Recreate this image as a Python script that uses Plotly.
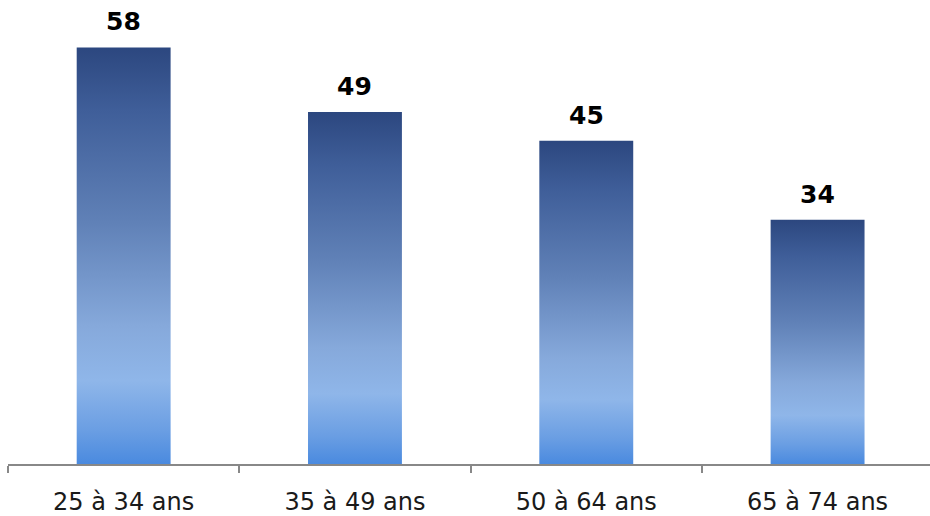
import plotly.graph_objects as go

categories = ["25 à 34 ans", "35 à 49 ans", "50 à 64 ans", "65 à 74 ans"]
values = [58, 49, 45, 34]

BAR_W = 0.406
gradient = [
    [0.0, "#4A8ADF"],
    [0.08, "#6A9EE3"],
    [0.20, "#8FB6E9"],
    [0.33, "#86A9DB"],
    [0.58, "#6081B7"],
    [0.85, "#3F5E99"],
    [1.0, "#2C477F"],
]

fig = go.Figure()
for i, (c, v) in enumerate(zip(categories, values)):
    x0, x1 = i - BAR_W / 2, i + BAR_W / 2
    fig.add_trace(go.Scatter(
        x=[x0, x1, x1, x0, x0],
        y=[0, 0, v, v, 0],
        mode="lines",
        fill="toself",
        line=dict(width=0),
        fillgradient=dict(type="vertical", colorscale=gradient),
        hoverinfo="skip",
        showlegend=False,
    ))
    fig.add_annotation(
        x=i, y=v, text=f"<b>{v}</b>", showarrow=False,
        yanchor="bottom", yshift=9,
        font=dict(family="DejaVu Sans", size=25, color="#000000"),
    )

fig.update_layout(
    width=930, height=516,
    margin=dict(l=8, r=0, t=0, b=48),
    paper_bgcolor="white", plot_bgcolor="white",
    showlegend=False,
    xaxis=dict(
        range=[-0.5, 3.486],
        tickmode="array",
        tickvals=list(range(len(categories))),
        ticktext=categories,
        ticks="outside", ticklen=15, tickcolor="rgba(0,0,0,0)",
        tickfont=dict(family="DejaVu Sans", size=24, color="#1a1a1a"),
        showline=True, linecolor="#888888", linewidth=1.5,
        showgrid=False, zeroline=False,
        minor=dict(
            tickmode="array",
            tickvals=[i - 0.5 for i in range(len(categories) + 1)],
            ticks="outside", ticklen=7, tickcolor="#888888", tickwidth=1.5,
            showgrid=False,
        ),
    ),
    yaxis=dict(range=[0, 64.6], visible=False, showgrid=False, zeroline=False),
)

fig.write_html("out.html")
